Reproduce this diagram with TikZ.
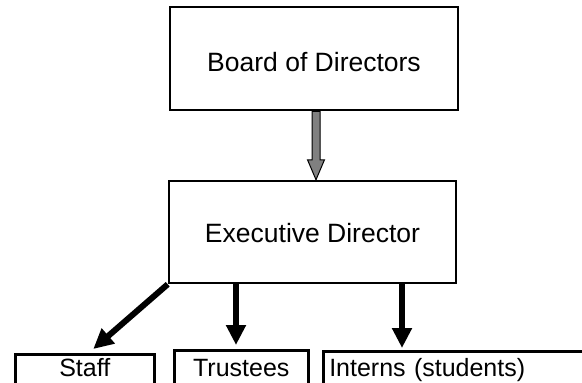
\documentclass[tikz,border=0pt]{standalone}
\usepackage{fontspec}
\setmainfont{Liberation Sans}
\usetikzlibrary{arrows.meta,calc}
\definecolor{arrgray}{RGB}{128,128,128}
\tikzset{
  box/.style={draw=black, line width=2.5pt, fill=white, inner sep=0pt, text depth=0pt},
  topfont/.style={font=\fontsize{26.5}{30}\selectfont},
  botfont/.style={font=\fontsize{25}{29}\selectfont},
  blk/.style={line width=6pt, -{Triangle[width=19pt,length=20pt]}},
}
\begin{document}
\begin{tikzpicture}[x=1pt,y=-1pt]
\useasboundingbox (0,0) rectangle (582,383);
\clip (0,0) rectangle (582,383);
\fill[white] (0,0) rectangle (582,383);

\node[box, topfont, minimum width=288pt, minimum height=103pt, text height=25pt] (board) at (314,58.5) {Board of Directors};
\node[box, topfont, minimum width=287pt, minimum height=102pt, text height=20pt] (exec) at (312.5,232) {Executive Director};

\node[box, botfont, anchor=north west, minimum width=139pt, inner ysep=5pt, text height=17pt, text depth=30pt] (staff) at (14,353) {Staff};
\node[box, botfont, anchor=north west, minimum width=134pt, inner ysep=5pt, text height=21pt, text depth=30pt] (trustees) at (173,349) {Trustees};
\node[box, botfont, anchor=north west, inner xsep=6pt, inner ysep=5pt, text width=290pt, align=left, text height=20pt, text depth=30pt] (interns) at (322,350) {Interns (students)};

% gray block arrow
\coordinate (gtop) at ($(board.south)+(2,0)$);
\coordinate (gtip) at ($(exec.north)+(3.5,0)$);
\draw[fill=arrgray, line width=1pt, line join=miter]
  ($(gtop)+(-4,0)$) -- ($(gtop)+(4,0)$) -- ($(gtip)+(4,-20)$) -- ($(gtip)+(8.5,-20)$)
  -- (gtip) -- ($(gtip)+(-8.5,-20)$) -- ($(gtip)+(-4,-20)$) -- cycle;

% black arrows
\coordinate (sB) at ($(staff.north)+(8.5,-4)$);
\coordinate (tA) at ($(exec.south)+(-76.5,0)$);
\coordinate (tB) at ($(tA |- trustees.north)+(0,-4)$);
\coordinate (iA) at ($(exec.south)+(89.5,0)$);
\coordinate (iB) at ($(iA |- interns.north)+(0,-2)$);
\draw[blk] (exec.south west) -- (sB);
\draw[blk] (tA) -- (tB);
\draw[blk] (iA) -- (iB);
\end{tikzpicture}
\end{document}
